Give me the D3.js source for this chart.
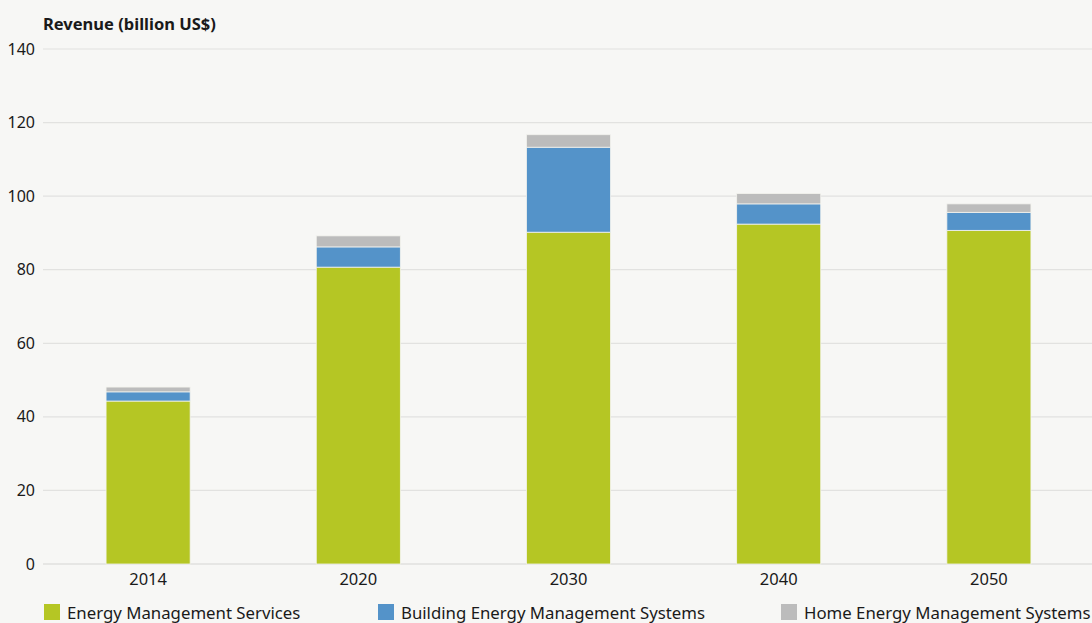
<!DOCTYPE html>
<html>
<head>
<meta charset="utf-8">
<script src="https://cdn.jsdelivr.net/npm/d3@7"></script>
<style>
  html, body { margin: 0; padding: 0; background: #f7f7f5; }
  svg { display: block; font-family: "Noto Sans", "Open Sans", sans-serif; }
</style>
</head>
<body>
<svg id="chart" width="1092" height="623"></svg>
<script>
// Revenue by segment (billion US$)
const years = ["2014", "2020", "2030", "2040", "2050"];
const seriesNames = ["Energy Management Services", "Building Energy Management Systems", "Home Energy Management Systems"];
const services = [44.3, 80.7, 90.2, 92.4, 90.7];
const building = [2.5, 5.5, 23.1, 5.5, 4.9];
const home = [1.3, 3.0, 3.4, 2.8, 2.3];
const yTicks = [0, 20, 40, 60, 80, 100, 120, 140];
const colors = ["#b5c624", "#5493c9", "#bcbcbc"];

const rows = years.map((y, i) => ({
  year: y,
  [seriesNames[0]]: services[i],
  [seriesNames[1]]: building[i],
  [seriesNames[2]]: home[i]
}));

const svg = d3.select("#chart");
const margin = { left: 43, right: 0, top: 49, bottom: 59 };
const W = 1092, H = 623;

const x = d3.scaleBand().domain(years).range([margin.left, W - margin.right + 2]).paddingInner(0.6).paddingOuter(0.3);
const y = d3.scaleLinear().domain([0, 140]).range([H - margin.bottom, margin.top]);

// gridlines
svg.append("g").selectAll("line").data(yTicks).join("line")
  .attr("x1", margin.left).attr("x2", W)
  .attr("y1", d => y(d)).attr("y2", d => y(d))
  .attr("stroke", d => d === 0 ? "#d6d6d4" : "#e2e2e0").attr("stroke-width", 1.2);

// y axis labels
const yAxis = d3.axisLeft(y).tickValues(yTicks).tickSize(0).tickPadding(8);
svg.append("g").attr("transform", `translate(${margin.left},0)`).call(yAxis)
  .call(g => g.select(".domain").remove())
  .selectAll("text").attr("font-size", 16).attr("fill", "#1a1a1a")
  .style("font-family", "'Noto Sans', sans-serif");

// x axis labels
const xAxis = d3.axisBottom(x).tickSize(0).tickPadding(9);
svg.append("g").attr("transform", `translate(0,${y(0)})`).call(xAxis)
  .call(g => g.select(".domain").remove())
  .selectAll("text").attr("font-size", 16.5).attr("fill", "#1a1a1a")
  .style("font-family", "'Noto Sans', sans-serif");

// stacked bars
const stack = d3.stack().keys(seriesNames)(rows);
svg.append("g").selectAll("g").data(stack).join("g")
  .attr("fill", (d, i) => colors[i])
  .selectAll("rect").data(d => d).join("rect")
  .attr("x", d => x(d.data.year))
  .attr("width", x.bandwidth())
  .attr("y", d => y(d[1]))
  .attr("height", d => y(d[0]) - y(d[1]))
  .attr("stroke", "#f3f3ee").attr("stroke-width", 0.8);

// axis title
svg.append("text").attr("x", 43).attr("y", 30)
  .attr("font-size", 16.5).attr("font-weight", "bold").attr("fill", "#1a1a1a")
  .text("Revenue (billion US$)");

// legend
const legendX = [44, 378, 781];
const lg = svg.append("g").selectAll("g").data(seriesNames).join("g")
  .attr("transform", (d, i) => `translate(${legendX[i]},604)`);
lg.append("rect").attr("width", 16).attr("height", 16).attr("fill", (d, i) => colors[i]);
lg.append("text").attr("x", 23).attr("y", 15).attr("font-size", 16.8).attr("fill", "#1a1a1a").text(d => d);
</script>
</body>
</html>
